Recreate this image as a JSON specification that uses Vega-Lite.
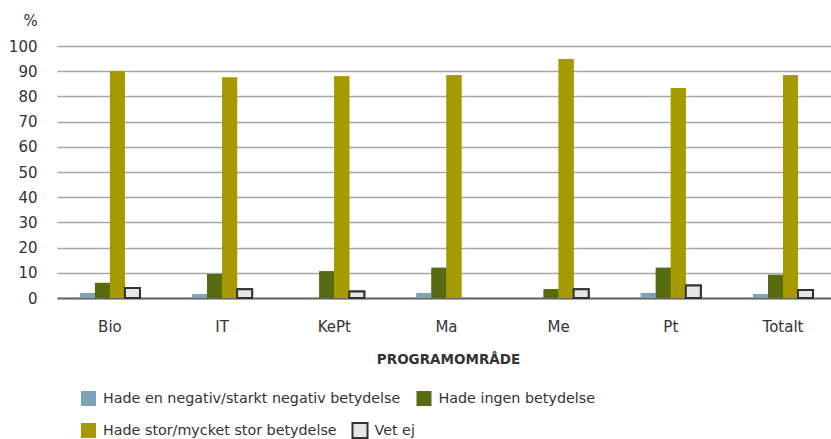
{
  "$schema": "https://vega.github.io/schema/vega-lite/v6.json",
  "autosize": "none",
  "padding": {"left": 57, "top": 46, "right": 0, "bottom": 141},
  "width": 774,
  "height": 252,
  "background": "white",
  "config": {
    "view": {"stroke": null},
    "font": "DejaVu Sans",
    "legend": {
      "title": null,
      "orient": "none",
      "direction": "horizontal",
      "columnPadding": 11.5,
      "symbolType": "square",
      "symbolSize": 225,
      "symbolStrokeWidth": 2,
      "symbolOpacity": 1,
      "labelOffset": 6,
      "labelFont": "DejaVu Sans",
      "labelFontSize": 14.3,
      "labelColor": "#333333",
      "labelLimit": 400
    }
  },
  "data": {
    "values": [
      {"omrade": "Bio", "kategori": "Hade en negativ/starkt negativ betydelse", "procent": 2},
      {"omrade": "Bio", "kategori": "Hade ingen betydelse", "procent": 6},
      {"omrade": "Bio", "kategori": "Hade stor/mycket stor betydelse", "procent": 90},
      {"omrade": "Bio", "kategori": "Vet ej", "procent": 4},
      {"omrade": "IT", "kategori": "Hade en negativ/starkt negativ betydelse", "procent": 1.5},
      {"omrade": "IT", "kategori": "Hade ingen betydelse", "procent": 9.5},
      {"omrade": "IT", "kategori": "Hade stor/mycket stor betydelse", "procent": 87.5},
      {"omrade": "IT", "kategori": "Vet ej", "procent": 3.5},
      {"omrade": "KePt", "kategori": "Hade en negativ/starkt negativ betydelse", "procent": null},
      {"omrade": "KePt", "kategori": "Hade ingen betydelse", "procent": 10.6},
      {"omrade": "KePt", "kategori": "Hade stor/mycket stor betydelse", "procent": 88},
      {"omrade": "KePt", "kategori": "Vet ej", "procent": 2.6},
      {"omrade": "Ma", "kategori": "Hade en negativ/starkt negativ betydelse", "procent": 2},
      {"omrade": "Ma", "kategori": "Hade ingen betydelse", "procent": 12},
      {"omrade": "Ma", "kategori": "Hade stor/mycket stor betydelse", "procent": 88.4},
      {"omrade": "Ma", "kategori": "Vet ej", "procent": null},
      {"omrade": "Me", "kategori": "Hade en negativ/starkt negativ betydelse", "procent": null},
      {"omrade": "Me", "kategori": "Hade ingen betydelse", "procent": 3.5},
      {"omrade": "Me", "kategori": "Hade stor/mycket stor betydelse", "procent": 94.8},
      {"omrade": "Me", "kategori": "Vet ej", "procent": 3.5},
      {"omrade": "Pt", "kategori": "Hade en negativ/starkt negativ betydelse", "procent": 2},
      {"omrade": "Pt", "kategori": "Hade ingen betydelse", "procent": 12},
      {"omrade": "Pt", "kategori": "Hade stor/mycket stor betydelse", "procent": 83.3},
      {"omrade": "Pt", "kategori": "Vet ej", "procent": 5},
      {"omrade": "Totalt", "kategori": "Hade en negativ/starkt negativ betydelse", "procent": 1.5},
      {"omrade": "Totalt", "kategori": "Hade ingen betydelse", "procent": 9.2},
      {"omrade": "Totalt", "kategori": "Hade stor/mycket stor betydelse", "procent": 88.4},
      {"omrade": "Totalt", "kategori": "Vet ej", "procent": 3.2}
    ]
  },
  "encoding": {
    "x": {
      "field": "omrade",
      "type": "nominal",
      "sort": ["Bio", "IT", "KePt", "Ma", "Me", "Pt", "Totalt"],
      "scale": {"paddingInner": 0.465, "paddingOuter": 0.1825, "align": 0.56},
      "axis": {
        "title": "PROGRAMOMRÅDE",
        "labelAngle": 0,
        "labelFont": "DejaVu Sans",
        "labelFontSize": 15,
        "labelColor": "#333333",
        "labelPadding": 21,
        "ticks": false,
        "domainColor": "#666666",
        "domainWidth": 2,
        "titleFont": "DejaVu Sans",
        "titleFontSize": 13.5,
        "titleFontWeight": "bold",
        "titleColor": "#333333",
        "titleX": 391,
        "titleY": 61,
        "titleAlign": "center",
        "titleBaseline": "middle"
      }
    },
    "xOffset": {
      "field": "kategori",
      "type": "nominal",
      "sort": ["Hade en negativ/starkt negativ betydelse", "Hade ingen betydelse", "Hade stor/mycket stor betydelse", "Vet ej"],
      "scale": {"domain": ["Hade en negativ/starkt negativ betydelse", "Hade ingen betydelse", "Hade stor/mycket stor betydelse", "Vet ej"]}
    },
    "y": {
      "field": "procent",
      "type": "quantitative",
      "scale": {"domain": [0, 100], "nice": false},
      "axis": {
        "title": "%",
        "titleAngle": 0,
        "titleX": -27,
        "titleY": -26,
        "titleAlign": "center",
        "titleBaseline": "middle",
        "titleFont": "DejaVu Sans",
        "titleFontSize": 15,
        "titleFontWeight": "normal",
        "titleColor": "#333333",
        "values": [0, 10, 20, 30, 40, 50, 60, 70, 80, 90, 100],
        "labelFont": "DejaVu Sans",
        "labelFontSize": 15,
        "labelColor": "#333333",
        "labelPadding": 20,
        "domain": false,
        "ticks": false,
        "gridColor": "#a6a6a6",
        "gridWidth": 1.5
      }
    }
  },
  "layer": [
    {
      "mark": {"type": "bar", "strokeWidth": 2, "invalid": "filter"},
      "encoding": {
        "fill": {
          "field": "kategori",
          "type": "nominal",
          "scale": {
            "domain": ["Hade en negativ/starkt negativ betydelse", "Hade ingen betydelse", "Hade stor/mycket stor betydelse", "Vet ej"],
            "range": ["#7fa2b8", "#576b11", "#a69a00", "#e5e6e8"]
          },
          "legend": {
            "values": ["Hade en negativ/starkt negativ betydelse", "Hade ingen betydelse"],
            "legendX": 23,
            "legendY": 344
          }
        },
        "stroke": {
          "field": "kategori",
          "type": "nominal",
          "scale": {
            "domain": ["Hade en negativ/starkt negativ betydelse", "Hade ingen betydelse", "Hade stor/mycket stor betydelse", "Vet ej"],
            "range": ["transparent", "transparent", "transparent", "#333333"]
          },
          "legend": {
            "values": ["Hade en negativ/starkt negativ betydelse", "Hade ingen betydelse"],
            "legendX": 23,
            "legendY": 344
          }
        }
      }
    },
    {
      "mark": {"type": "bar", "strokeWidth": 2, "invalid": "filter"},
      "encoding": {
        "fill": {
          "field": "kategori",
          "type": "nominal",
          "scale": {
            "domain": ["Hade en negativ/starkt negativ betydelse", "Hade ingen betydelse", "Hade stor/mycket stor betydelse", "Vet ej"],
            "range": ["#7fa2b8", "#576b11", "#a69a00", "#e5e6e8"]
          },
          "legend": {
            "values": ["Hade stor/mycket stor betydelse", "Vet ej"],
            "legendX": 23,
            "legendY": 376
          }
        },
        "stroke": {
          "field": "kategori",
          "type": "nominal",
          "scale": {
            "domain": ["Hade en negativ/starkt negativ betydelse", "Hade ingen betydelse", "Hade stor/mycket stor betydelse", "Vet ej"],
            "range": ["transparent", "transparent", "transparent", "#333333"]
          },
          "legend": {
            "values": ["Hade stor/mycket stor betydelse", "Vet ej"],
            "legendX": 23,
            "legendY": 376
          }
        }
      }
    }
  ],
  "resolve": {
    "scale": {"fill": "independent", "stroke": "independent"},
    "legend": {"fill": "independent", "stroke": "independent"}
  }
}
